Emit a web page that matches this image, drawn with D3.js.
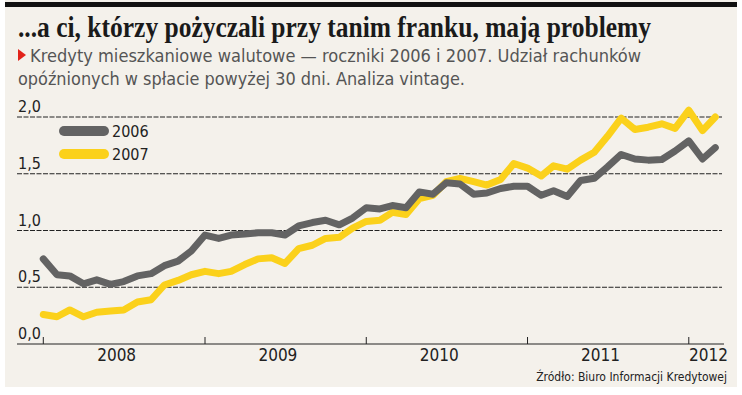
<!DOCTYPE html>
<html>
<head>
<meta charset="utf-8">
<script src="https://cdn.jsdelivr.net/npm/d3@7"></script>
<style>
  body { margin: 0; background: #ffffff; }
  svg { display: block; }
</style>
</head>
<body>
<div id="chart"></div>
<script>
// monthly vintage data, Jan 2008 - Mar 2012
const months = d3.timeMonth.range(new Date(2008, 0, 1), new Date(2012, 2, 2))

const series2006 = [
  0.75, 0.61, 0.60, 0.53, 0.565, 0.525, 0.55, 0.60, 0.62, 0.69,
  0.73, 0.82, 0.96, 0.93, 0.96, 0.97, 0.98, 0.98, 0.96, 1.04,
  1.07, 1.09, 1.05, 1.11, 1.20, 1.19, 1.22, 1.20, 1.34, 1.32,
  1.42, 1.41, 1.32, 1.33, 1.37, 1.39, 1.39, 1.31, 1.35, 1.30,
  1.44, 1.46, 1.56, 1.67, 1.63, 1.62, 1.625, 1.70, 1.79, 1.63,
  1.73
]

const series2007 = [
  0.26, 0.24, 0.30, 0.24, 0.28, 0.29, 0.30, 0.37, 0.39, 0.52,
  0.56, 0.61, 0.64, 0.62, 0.64, 0.70, 0.75, 0.76, 0.71, 0.84,
  0.87, 0.93, 0.94, 1.02, 1.08, 1.09, 1.16, 1.14, 1.28, 1.31,
  1.43, 1.46, 1.43, 1.40, 1.45, 1.59, 1.55, 1.48, 1.57, 1.54,
  1.62, 1.69, 1.83, 1.99, 1.89, 1.91, 1.94, 1.90, 2.06, 1.88,
  2.00
]

const seriesNames = ["2006", "2007"]
const seriesColors = ["#636363", "#fbd11b"]
const yTicks = [0, 0.5, 1.0, 1.5, 2.0]
const years = [2008, 2009, 2010, 2011, 2012]

const title = "...a ci, którzy pożyczali przy tanim franku, mają problemy"
const subtitle1 = "Kredyty mieszkaniowe walutowe \u2014 roczniki 2006 i 2007. Udział rachunków"
const subtitle2 = "opóźnionych w spłacie powyżej 30 dni. Analiza vintage."
const source = "Źródło: Biuro Informacji Kredytowej"

const W = 742, H = 395
const sans = "'Liberation Sans Narrow', 'DejaVu Sans Condensed', 'Roboto Condensed', Roboto, sans-serif"
const serif = "'Liberation Serif', 'DejaVu Serif', serif"

const svg = d3.select("#chart").append("svg").attr("width", W).attr("height", H)

// panel + top rule
svg.append("rect").attr("x", 5).attr("y", 0).attr("width", 732).attr("height", 387).attr("fill", "#f4f1eb")
svg.append("rect").attr("x", 5).attr("y", 2).attr("width", 732).attr("height", 5).attr("fill", "#111")

// squeeze text to a target width (original uses condensed faces)
function fit(sel, w) {
  const len = sel.node().getComputedTextLength()
  if (Math.abs(len - w) > 2) sel.attr("textLength", w).attr("lengthAdjust", "spacingAndGlyphs")
  return sel
}

fit(svg.append("text").attr("x", 18).attr("y", 37)
  .attr("font-family", serif).attr("font-weight", "bold").attr("font-size", 29)
  .attr("fill", "#1a1a1a").text(title), 633)

svg.append("path").attr("d", "M18,49 L26,55 L18,61 Z").attr("fill", "#e2231a")

fit(svg.append("text").attr("x", 30).attr("y", 62)
  .attr("font-family", sans).attr("font-size", 17).attr("fill", "#555")
  .text(subtitle1), 611)
fit(svg.append("text").attr("x", 18).attr("y", 85)
  .attr("font-family", sans).attr("font-size", 17).attr("fill", "#555")
  .text(subtitle2), 447)

// scales
const x = d3.scaleTime().domain([months[0], months[months.length - 1]]).range([43.3, 715.3])
const y = d3.scaleLinear().domain([0, 2]).range([344, 117])
const left = 17, right = 724

const fmt = v => d3.format(".1f")(v).replace(".", ",")

// grid
svg.append("g").selectAll("line").data(yTicks.filter(d => d > 0)).join("line")
  .attr("x1", left).attr("x2", right - 2)
  .attr("y1", d => y(d)).attr("y2", d => y(d))
  .attr("stroke", "#222").attr("stroke-width", 1).attr("stroke-dasharray", "5,1.5")

svg.append("g").selectAll("text").data(yTicks).join("text")
  .attr("x", 18).attr("y", d => y(d) - 5)
  .attr("font-family", sans).attr("font-size", 16).attr("fill", "#222")
  .text(fmt)

// x axis
svg.append("line").attr("x1", left).attr("x2", right)
  .attr("y1", y(0)).attr("y2", y(0)).attr("stroke", "#222").attr("stroke-width", 1)

svg.append("g").selectAll("line").data(years).join("line")
  .attr("x1", d => x(new Date(d, 0, 1))).attr("x2", d => x(new Date(d, 0, 1)))
  .attr("y1", y(0) - 7).attr("y2", y(0)).attr("stroke", "#222")

svg.append("g").selectAll("text").data(years).join("text")
  .attr("font-family", sans).attr("font-size", 17).attr("fill", "#222")
  .attr("y", 361)
  .text(d => d)
  .each(function (d) {
    const t = d3.select(this)
    const w = this.getComputedTextLength()
    let cx = x(new Date(d, 5, 15))
    if (cx + w / 2 > right + 4) cx = right + 4 - w / 2
    t.attr("x", cx).attr("text-anchor", "middle")
  })

// lines
const line = d3.line().x((d, i) => x(months[i])).y(d => y(d))
const data = [series2007, series2006]
const colors = [seriesColors[1], seriesColors[0]]
svg.append("g").selectAll("path").data(data).join("path")
  .attr("d", line)
  .attr("fill", "none")
  .attr("stroke", (d, i) => colors[i])
  .attr("stroke-width", 7)
  .attr("stroke-linejoin", "round")
  .attr("stroke-linecap", "round")

// legend
const legend = svg.append("g").selectAll("g").data(seriesNames).join("g")
  .attr("transform", (d, i) => "translate(64," + (131 + i * 23) + ")")
legend.append("line").attr("x1", 0).attr("x2", 40).attr("y1", 0).attr("y2", 0)
  .attr("stroke", (d, i) => seriesColors[i]).attr("stroke-width", 10).attr("stroke-linecap", "round")
legend.append("text").attr("x", 48).attr("y", 6)
  .attr("font-family", sans).attr("font-size", 16).attr("fill", "#222")
  .text(d => d)

// source
svg.append("text").attr("x", 727).attr("y", 381).attr("text-anchor", "end")
  .attr("font-family", sans).attr("font-size", 12).attr("fill", "#222")
  .text(source)
</script>
</body>
</html>
